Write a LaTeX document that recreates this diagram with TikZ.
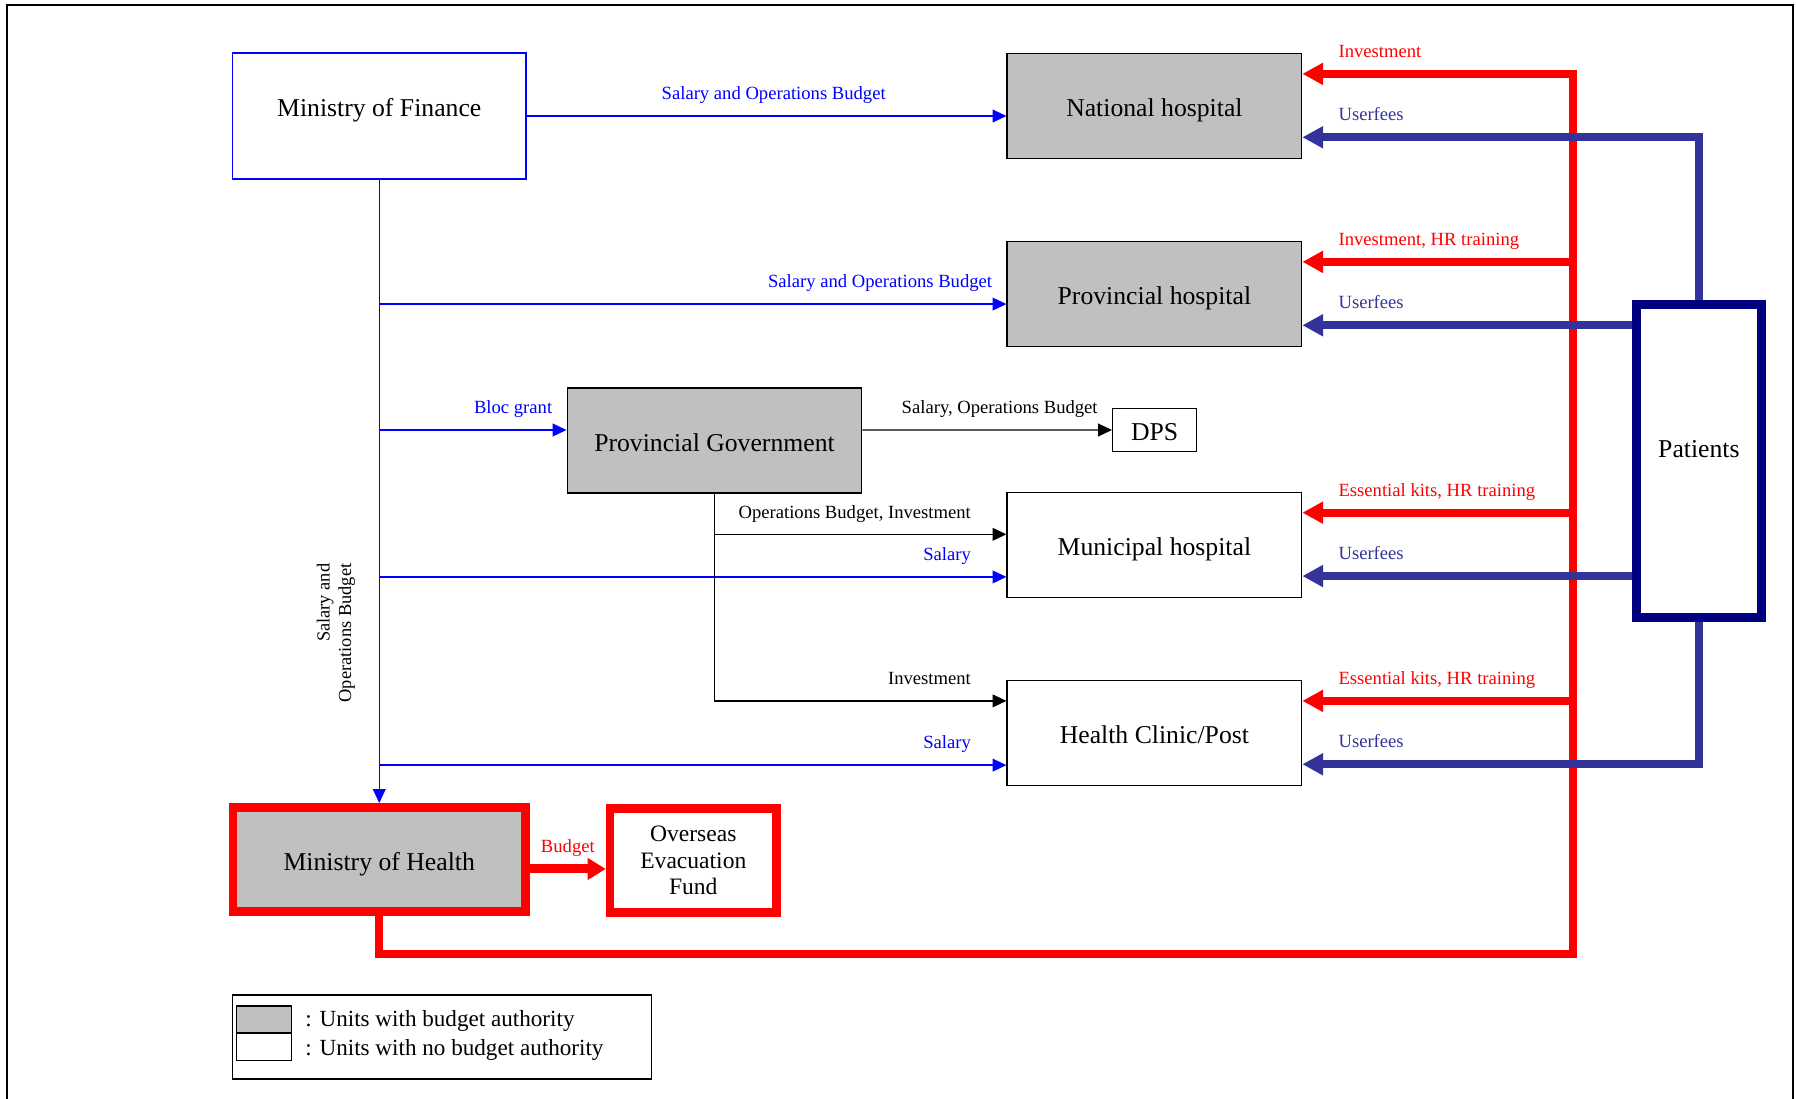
\documentclass[tikz,border=0pt]{standalone}
\usepackage{fontspec}
\setmainfont{Liberation Serif}
\usetikzlibrary{arrows.meta,positioning}

\definecolor{boxgray}{RGB}{192,192,192}
\definecolor{feeblue}{RGB}{51,51,153}
\definecolor{patnavy}{RGB}{0,0,128}
\newcommand{\boxfont}{\fontsize{12}{14}\selectfont}
\newcommand{\labfont}{\fontsize{8.7}{10}\selectfont}

\begin{document}
\begin{tikzpicture}[x=0.467pt,y=-0.467pt,
  plain box/.style={rectangle,draw,line width=0.6pt,font=\boxfont,inner sep=2pt},
  unit box/.style={plain box,minimum width=137.6pt,minimum height=49pt,text height=12.8pt,text depth=2.6pt},
  budget box/.style={unit box,fill=boxgray},
  lab/.style={font=\labfont,inner sep=0pt,yshift=7.6pt},
  left lab/.style={lab,anchor=base east,xshift=-#1},
  left lab/.default=6.4pt,
  right lab/.style={lab,anchor=base west,xshift=15.1pt},
  thin arrow/.style={line width=0.6pt,-{Triangle[length=6.5pt,width=6pt]}},
  fat arrow/.style={line width=3.6pt,-{Triangle[length=9.7pt,width=9.8pt]}}]

  \useasboundingbox (0,0) rectangle (1796,1099);
  \draw[line width=1.2pt] (7,1099) |- (1793,5) -- (1793,1099);

  \node[unit box,draw=blue,minimum width=137pt,minimum height=58.8pt] (mof) at (379.25,116) {\raisebox{4.9pt}{Ministry of Finance}};
  \node[budget box] (nat) at (1154.4,106) {National hospital};
  \node[budget box] (prov) at (1154.4,294) {Provincial hospital};
  \node[budget box] (pgov) at (714.5,440.5) {Provincial Government};
  \node[unit box,minimum width=39.2pt,minimum height=20pt] (dps) at (1154.6,430) {DPS};
  \node[unit box] (muni) at (1154.4,544.8) {Municipal hospital};
  \node[unit box] (clinic) at (1154.4,733) {Health Clinic/Post};
  \node[unit box,draw=patnavy,line width=4pt,minimum width=58.5pt,minimum height=146pt] (pat) at (1698.9,460.9) {\raisebox{6.5pt}{Patients}};
  \node[budget box,draw=red,line width=4pt,minimum width=136.8pt,minimum height=48.6pt] (moh) at (379.25,859.3) {Ministry of Health};
  \node[plain box,draw=red,line width=4pt,minimum width=77.8pt,minimum height=48.8pt,align=center,font=\fontsize{11}{12.4}\selectfont] (oef) at (693.3,860.5) {Overseas\\Evacuation\\Fund};
  \node[rotate=90,align=right,inner sep=0pt,font=\fontsize{8.6}{10}\selectfont] (vlab) at (336,633) {Salary and\\Operations Budget};

  % legend
  \node[draw,line width=0.6pt,minimum width=195.7pt,minimum height=39.2pt,inner sep=0pt] (legend) at (442,1037) {};
  \node[draw,line width=0.6pt,fill=boxgray,minimum width=25.7pt,minimum height=12.6pt,inner sep=0pt] (keyg) at (264,1019.5) {};
  \node[draw,line width=0.6pt,minimum width=25.7pt,minimum height=12.9pt,inner sep=0pt] (keyw) at (264,1047) {};
  \node[right=6pt of keyg,yshift=-0.5pt,inner sep=0pt,font=\fontsize{10.8}{13}\selectfont] (keygt) {: Units with budget authority};
  \node[right=6pt of keyw,yshift=-1.5pt,inner sep=0pt,font=\fontsize{10.8}{13}\selectfont] (keywt) {: Units with no budget authority};

  % finance flows
  \draw[blue,thin arrow] (mof.south) -- (moh.north);
  \path[blue,thin arrow]
    (mof.east) edge node[lab,pos=0.515,anchor=base] {Salary and Operations Budget} (mof.east -| nat.west);
  \draw[blue,thin arrow] (mof.south) |- ([yshift=-4.7pt]prov.west) node[left lab] {Salary and Operations Budget};
  \draw[blue,thin arrow] (mof.south) |- ([yshift=4.9pt]pgov.west) node[left lab] {Bloc grant};
  \draw[blue,thin arrow] (mof.south) |- ([yshift=-15pt]muni.west) node[left lab=16.3pt] {Salary};
  \draw[blue,thin arrow] (mof.south) |- ([yshift=-15pt]clinic.west) node[left lab=16.3pt] {Salary};

  % provincial government
  \draw[thin arrow] ([yshift=4.9pt]pgov.east) -- (dps.west) node[left lab] {Salary, Operations Budget};
  \draw[thin arrow] (pgov.south) |- ([yshift=4.9pt]muni.west) node[left lab=16.3pt] {Operations Budget, Investment};
  \draw[thin arrow] (pgov.south) |- ([yshift=15pt]clinic.west) node[left lab=16.3pt] {Investment};

  % ministry of health
  \coordinate (bus) at (1573.3,954);
  \draw[red,fat arrow] (moh.south) |- (bus) |- ([yshift=15pt]nat.east) node[right lab] {Investment};
  \draw[red,fat arrow] (bus) |- ([yshift=15pt]prov.east) node[right lab] {Investment, HR training};
  \draw[red,fat arrow] (bus) |- ([yshift=15pt]muni.east) node[right lab] {Essential kits, HR training};
  \draw[red,fat arrow] (bus) |- ([yshift=15pt]clinic.east) node[right lab] {Essential kits, HR training};
  \draw[red,line width=4.2pt,-{Triangle[length=8.4pt,width=9.7pt]}] ([yshift=-4.5pt]moh.east) -- ([yshift=-4.5pt]moh.east -| oef.west) node[midway,lab,anchor=base] {Budget};

  % patients
  \draw[feeblue,fat arrow] (pat.north) |- ([yshift=-14.6pt]nat.east) node[right lab] {Userfees};
  \draw[feeblue,fat arrow] ([yshift=-14.6pt]prov.east -| pat.west) -- ([yshift=-14.6pt]prov.east) node[right lab] {Userfees};
  \draw[feeblue,fat arrow] ([yshift=-14.6pt]muni.east -| pat.west) -- ([yshift=-14.6pt]muni.east) node[right lab] {Userfees};
  \draw[feeblue,fat arrow] (pat.south) |- ([yshift=-14.6pt]clinic.east) node[right lab] {Userfees};
\end{tikzpicture}
\end{document}
